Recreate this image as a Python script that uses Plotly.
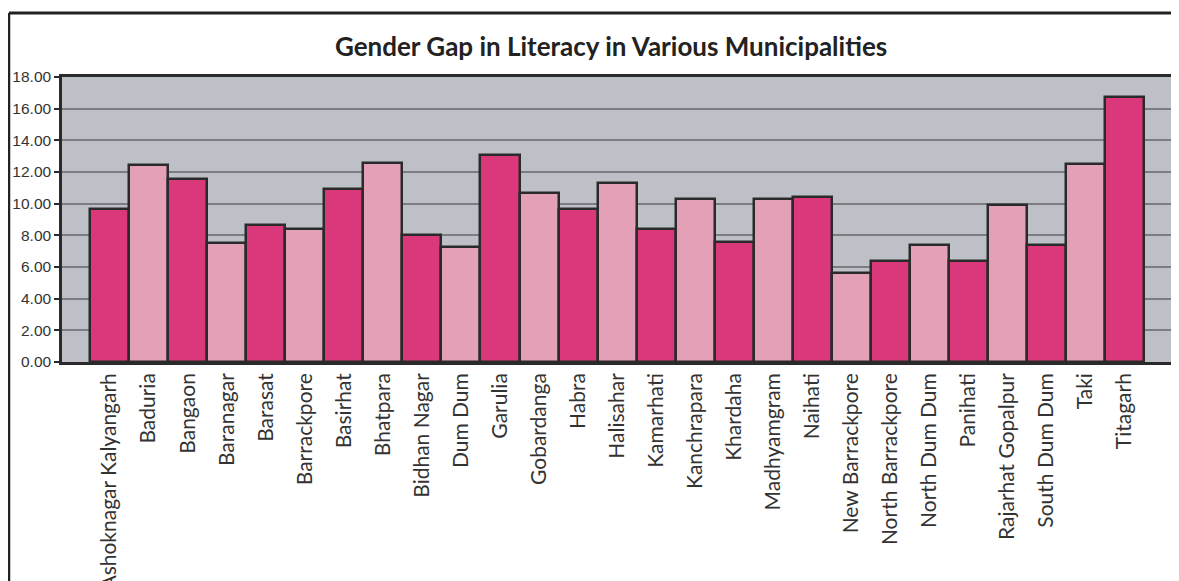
import plotly.graph_objects as go

municipalities = [
    "Ashoknagar Kalyangarh", "Baduria", "Bangaon", "Baranagar", "Barasat",
    "Barrackpore", "Basirhat", "Bhatpara", "Bidhan Nagar", "Dum Dum",
    "Garulia", "Gobardanga", "Habra", "Halisahar", "Kamarhati",
    "Kanchrapara", "Khardaha", "Madhyamgram", "Naihati", "New Barrackpore",
    "North Barrackpore", "North Dum Dum", "Panihati", "Rajarhat Gopalpur",
    "South Dum Dum", "Taki", "Titagarh",
]
gender_gap = [
    9.65, 12.46, 11.55, 7.50, 8.65,
    8.40, 10.95, 12.55, 8.02, 7.28,
    13.08, 10.66, 9.65, 11.33, 8.40,
    10.30, 7.60, 10.30, 10.42, 5.60,
    6.38, 7.39, 6.38, 9.92,
    7.39, 12.53, 16.72,
]
y_ticks = [0, 2, 4, 6, 8, 10, 12, 14, 16, 18]

dark_pink = "#DB387B"
light_pink = "#E3A0B6"
bar_colors = [dark_pink if i % 2 == 0 else light_pink for i in range(len(municipalities))]

fig = go.Figure()
fig.add_trace(go.Bar(
    x=municipalities, y=gender_gap,
    marker=dict(color=bar_colors, line=dict(color="#2a2a2a", width=2.5)),
    hovertemplate="%{x}: %{y:.2f}<extra></extra>",
))

# the page body has an 8px margin, so the figure is sized and placed to allow for it
fig.update_layout(
    width=1171, height=573,
    margin=dict(l=54, r=6, t=69, b=219),
    paper_bgcolor="white", plot_bgcolor="#BEC0C8",
    bargap=0, showlegend=False,
    title=dict(text="<b>Gender Gap in Literacy in Various Municipalities</b>",
               x=0.515, xanchor="center", y=0.932, yanchor="middle",
               font=dict(family="Lato", size=26, color="#222222")),
    shapes=[
        dict(type="line", xref="paper", yref="paper",
             x0=-0.0477, x1=1.01, y0=1.2246, y1=1.2246,
             line=dict(color="#222222", width=3)),
        dict(type="line", xref="paper", yref="paper",
             x0=-0.0477, x1=-0.0477, y0=1.2246, y1=-0.8,
             line=dict(color="#222222", width=2.5)),
    ],
)

fig.update_xaxes(
    range=[-1.22, 27.24], tickangle=-90, automargin=False,
    tickfont=dict(family="Lato", size=21, color="#333333"),
    showline=True, linecolor="#2a2a2a", linewidth=2.5, mirror=True,
    showgrid=False, ticks="",
)
fig.update_yaxes(
    range=[0, 18], tickvals=y_ticks, tickformat=".2f", automargin=False,
    tickfont=dict(family="Liberation Sans", size=15.5, color="#333333"),
    ticks="outside", ticklen=5, tickcolor="#2a2a2a", tickwidth=1.5,
    showline=True, linecolor="#2a2a2a", linewidth=2.5, mirror=True,
    showgrid=True, gridcolor="#7b7d82", gridwidth=2, zeroline=False,
)

fig.write_html("out.html")
